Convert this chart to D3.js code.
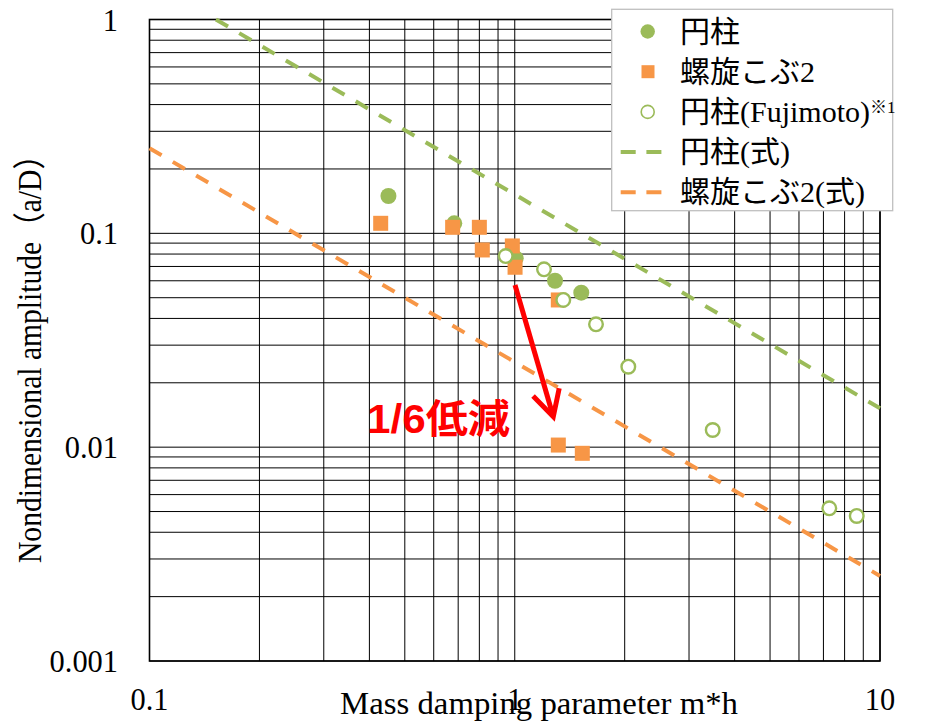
<!DOCTYPE html>
<html><head><meta charset="utf-8">
<script src="https://cdn.jsdelivr.net/npm/d3@7"></script>
<style>body{margin:0;background:#fff}svg{display:block}</style>
</head><body>
<svg id="c" width="925" height="722"></svg>
<script>
// ---- data ----
const xTickLabels = [0.1, 1, 10];
const yTickLabels = [1, 0.1, 0.01, 0.001];

const cylX = [0.451, 0.683, 1.006, 1.289, 1.521];
const cylY = [0.1495, 0.1114, 0.0764, 0.060, 0.0528];

const knobX = [0.4295, 0.676, 0.800, 0.815, 0.985, 1.002, 1.316, 1.316, 1.531];
const knobY = [0.1114, 0.1067, 0.1067, 0.0836, 0.0873, 0.0694, 0.0488, 0.01023, 0.00936];

const fujiX = [0.9445, 1.2026, 1.358, 1.669, 2.046, 3.483, 7.265, 8.636];
const fujiY = [0.0783, 0.0679, 0.0488, 0.03755, 0.02378, 0.01203, 0.005176, 0.004767];

const cylFormulaX = [0.152, 10];
const cylFormulaY = [1, 0.0152];
const knobFormulaX = [0.1, 10];
const knobFormulaY = [0.25, 0.0025];

const legendLabels = ["円柱", "螺旋こぶ2", "円柱(Fujimoto)", "円柱(式)", "螺旋こぶ2(式)"];
const legendTypes = ["dot", "square", "ring", "dashG", "dashO"];

const arrowFrom = [1.0016, 0.0573];
const arrowTo = [1.275, 0.01388];
const noteText = "1/6低減";
const notePos = [0.394, 0.01165];

const xTitle = "Mass damping parameter m*h";
const yTitle = "Nondimensional amplitude（a/D）";

// ---- styles ----
const GREEN = "#9BBB59", ORANGE = "#F79646";
const SERIF = "'Liberation Serif','Times New Roman','Noto Sans CJK JP',serif";

const svg = d3.select("#c");
const x = d3.scaleLog().domain([0.1, 10]).range([149.5, 880]);
const y = d3.scaleLog().domain([0.001, 1]).range([661, 19.5]);

// grid
const g = svg.append("g");
g.selectAll("line.gx").data(x.ticks()).join("line")
  .attr("x1", d => x(d)).attr("x2", d => x(d))
  .attr("y1", y(1)).attr("y2", y(0.001))
  .attr("stroke", "#000").attr("stroke-width", 1);
g.selectAll("line.gy").data(y.ticks()).join("line")
  .attr("y1", d => y(d)).attr("y2", d => y(d))
  .attr("x1", x(0.1)).attr("x2", x(10))
  .attr("stroke", "#000").attr("stroke-width", 1);
svg.append("rect").attr("x", x(0.1)).attr("y", y(1))
  .attr("width", x(10) - x(0.1)).attr("height", y(0.001) - y(1))
  .attr("fill", "none").attr("stroke", "#000").attr("stroke-width", 1.6);

// tick labels
svg.selectAll("text.yt").data(yTickLabels).join("text")
  .attr("x", 118).attr("y", d => y(d) + 11)
  .attr("text-anchor", "end").attr("font-family", SERIF).attr("font-size", 32)
  .text(d => String(d))
  .each(function () { const w = this.getComputedTextLength(); d3.select(this).attr("textLength", w * 0.95).attr("lengthAdjust", "spacingAndGlyphs"); });
svg.selectAll("text.xt").data(xTickLabels).join("text")
  .attr("x", d => x(d)).attr("y", 710)
  .attr("text-anchor", "middle").attr("font-family", SERIF).attr("font-size", 32)
  .text(d => String(d))
  .each(function () { const w = this.getComputedTextLength(); d3.select(this).attr("textLength", w * 0.95).attr("lengthAdjust", "spacingAndGlyphs"); });

// axis titles
svg.append("text").attr("x", 340).attr("y", 714)
  .attr("font-family", SERIF).attr("font-size", 31)
  .attr("textLength", 398).attr("lengthAdjust", "spacingAndGlyphs")
  .text(xTitle);
svg.append("text").attr("transform", "translate(41,351.5) rotate(-90)")
  .attr("text-anchor", "middle")
  .attr("font-family", SERIF).attr("font-size", 33)
  .attr("textLength", 423).attr("lengthAdjust", "spacingAndGlyphs")
  .text(yTitle);

// formula lines
const line = d3.line().x(d => x(d[0])).y(d => y(d[1]));
svg.append("path").attr("d", line(d3.zip(knobFormulaX, knobFormulaY)))
  .attr("fill", "none").attr("stroke", ORANGE).attr("stroke-width", 4)
  .attr("stroke-dasharray", "14 13");
svg.append("path").attr("d", line(d3.zip(cylFormulaX, cylFormulaY)))
  .attr("fill", "none").attr("stroke", GREEN).attr("stroke-width", 4)
  .attr("stroke-dasharray", "14 13");

// markers
svg.selectAll("circle.cyl").data(d3.zip(cylX, cylY)).join("circle")
  .attr("cx", d => x(d[0])).attr("cy", d => y(d[1])).attr("r", 8)
  .attr("fill", GREEN);
svg.selectAll("rect.knob").data(d3.zip(knobX, knobY)).join("rect")
  .attr("x", d => x(d[0]) - 7.5).attr("y", d => y(d[1]) - 7.5)
  .attr("width", 15).attr("height", 15).attr("fill", ORANGE);
svg.selectAll("circle.fuji").data(d3.zip(fujiX, fujiY)).join("circle")
  .attr("cx", d => x(d[0])).attr("cy", d => y(d[1])).attr("r", 6.8)
  .attr("fill", "#fff").attr("stroke", GREEN).attr("stroke-width", 2.4);

// arrow annotation
const ax0 = x(arrowFrom[0]), ay0 = y(arrowFrom[1]);
const ax1 = x(arrowTo[0]), ay1 = y(arrowTo[1]);
const ang = Math.atan2(ay0 - ay1, ax0 - ax1);
const wl = 29, wa = 28 * Math.PI / 180;
svg.append("line").attr("x1", ax0).attr("y1", ay0)
  .attr("x2", ax1 - 2 * Math.cos(ang + Math.PI)).attr("y2", ay1 - 2 * Math.sin(ang + Math.PI))
  .attr("stroke", "#FF0000").attr("stroke-width", 5);
svg.append("path")
  .attr("d", `M${ax1 + wl * Math.cos(ang - wa)},${ay1 + wl * Math.sin(ang - wa)}L${ax1},${ay1}L${ax1 + wl * Math.cos(ang + wa)},${ay1 + wl * Math.sin(ang + wa)}`)
  .attr("fill", "none").attr("stroke", "#FF0000").attr("stroke-width", 5)
  .attr("stroke-linejoin", "miter");
svg.append("text").attr("x", x(notePos[0])).attr("y", y(notePos[1]))
  .attr("font-family", "'Liberation Sans',Arial,'Noto Sans CJK JP',sans-serif")
  .attr("font-weight", "bold").attr("font-size", 40).attr("fill", "#FF0000")
  .attr("textLength", 143).attr("lengthAdjust", "spacingAndGlyphs")
  .text(noteText);

// legend
const lg = svg.append("g");
lg.append("rect").attr("x", 611.7).attr("y", 9.3).attr("width", 281).attr("height", 201.4)
  .attr("fill", "#fff").attr("stroke", "#bfbfbf").attr("stroke-width", 1.3);
const rowY = i => 31.5 + i * 40.2;
legendTypes.forEach((t, i) => {
  const cy = rowY(i);
  if (t === "dot") lg.append("circle").attr("cx", 647.7).attr("cy", cy).attr("r", 7.2).attr("fill", GREEN);
  if (t === "square") lg.append("rect").attr("x", 641.5).attr("y", cy - 6.5).attr("width", 13).attr("height", 13).attr("fill", ORANGE);
  if (t === "ring") lg.append("circle").attr("cx", 647.7).attr("cy", cy).attr("r", 6.5).attr("fill", "#fff").attr("stroke", GREEN).attr("stroke-width", 1.6);
  if (t === "dashG" || t === "dashO") lg.append("line").attr("x1", 620.7).attr("x2", 662).attr("y1", cy).attr("y2", cy)
    .attr("stroke", t === "dashG" ? GREEN : ORANGE).attr("stroke-width", 4).attr("stroke-dasharray", "15 10.7");
  const tx = lg.append("text").attr("x", 680).attr("y", cy + 10)
    .attr("font-family", SERIF).attr("font-size", 30).text(legendLabels[i]);
  if (t === "ring") tx.append("tspan").attr("font-size", 17).attr("dy", -9).text("※1");
});
</script>
</body></html>
